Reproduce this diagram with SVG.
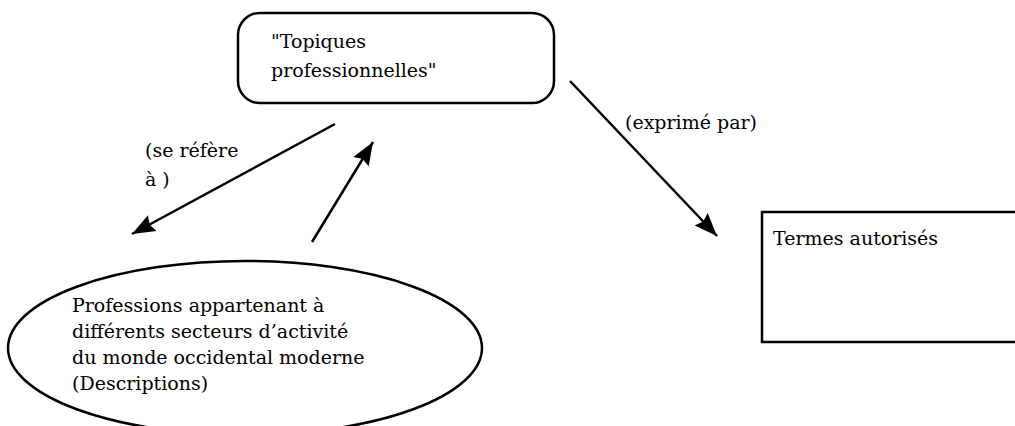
<svg xmlns="http://www.w3.org/2000/svg" width="1015" height="426" viewBox="0 0 1015 426">
<style>
  .t { font-family: "DejaVu Serif", "Liberation Serif", serif; font-size: 19px; fill: #000; }
  .shape { fill: #fff; stroke: #000; stroke-width: 2.5; }
  .conn { stroke: #000; stroke-width: 2.5; fill: none; marker-end: url(#ah); }
</style>
<defs>
  <marker id="ah" markerUnits="userSpaceOnUse" markerWidth="26" markerHeight="22" refX="23" refY="10" orient="auto">
    <polygon points="0,1 23,10 0,19 3,10" fill="#000"/>
  </marker>
</defs>
<rect width="1015" height="426" fill="#fff"/>
<g id="n-topiques">
  <rect class="shape" x="238" y="13" width="316" height="90" rx="22" ry="22"/>
  <text class="t" x="271" y="48">"Topiques</text>
  <text class="t" x="271" y="77">professionnelles"</text>
</g>
<g id="n-termes">
  <rect class="shape" x="762" y="212" width="270" height="130" stroke-width="3"/>
  <text class="t" x="773" y="245">Termes autorisés</text>
</g>
<g id="n-professions">
  <ellipse class="shape" cx="245" cy="348" rx="237" ry="87"/>
  <text class="t" x="72" y="312">Professions appartenant à</text>
  <text class="t" x="72" y="338">différents secteurs d’activité</text>
  <text class="t" x="72" y="364">du monde occidental moderne</text>
  <text class="t" x="72" y="390">(Descriptions)</text>
</g>
<g id="connectors">
  <line class="conn" x1="335" y1="124" x2="132" y2="234"/>
  <line class="conn" x1="312" y1="242" x2="373" y2="142"/>
  <line class="conn" x1="570" y1="81" x2="717" y2="236"/>
  <text class="t" x="145" y="157">(se réfère</text>
  <text class="t" x="145" y="186">à )</text>
  <text class="t" x="625" y="129">(exprimé par)</text>
</g>
</svg>
